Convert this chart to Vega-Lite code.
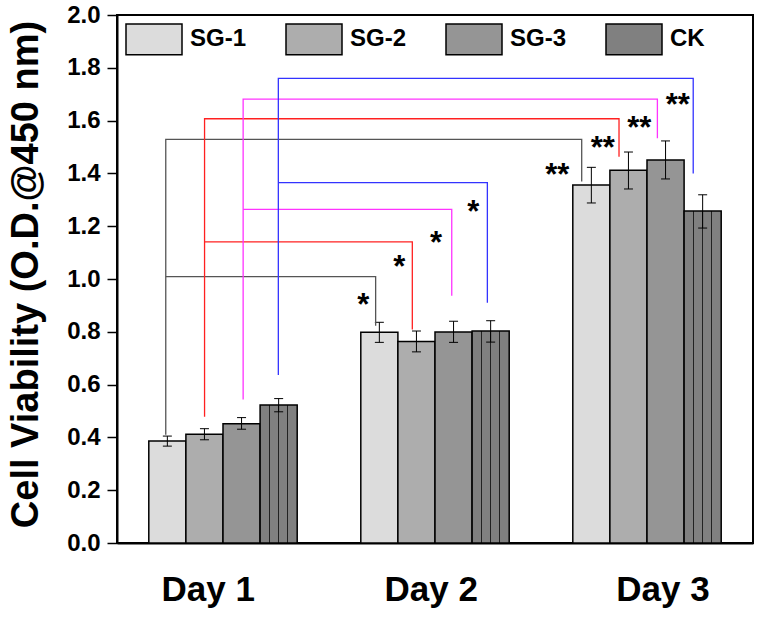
{
  "$schema": "https://vega.github.io/schema/vega-lite/v6.json",
  "width": 636,
  "height": 528,
  "autosize": {"type": "none"},
  "padding": {"left": 117, "top": 15, "right": 9, "bottom": 75},
  "background": "white",
  "config": {
    "view": {"stroke": "black", "strokeWidth": 2},
    "font": "Liberation Sans",
    "axis": {"grid": false, "domainColor": "black", "domainWidth": 2, "tickColor": "black", "labelColor": "black", "titleColor": "black"},
    "axisY": {"labelFontSize": 24, "labelFontWeight": "bold", "labelFont": "Liberation Sans"}
  },
  "datasets": {
    "bars": [
      {"Day": "Day 1", "Group": "SG-1", "mean": 0.386, "lo": 0.367, "hi": 0.405},
      {"Day": "Day 1", "Group": "SG-2", "mean": 0.412, "lo": 0.391, "hi": 0.433},
      {"Day": "Day 1", "Group": "SG-3", "mean": 0.452, "lo": 0.431, "hi": 0.475},
      {"Day": "Day 1", "Group": "CK", "mean": 0.523, "lo": 0.497, "hi": 0.547},
      {"Day": "Day 2", "Group": "SG-1", "mean": 0.798, "lo": 0.760, "hi": 0.836},
      {"Day": "Day 2", "Group": "SG-2", "mean": 0.763, "lo": 0.724, "hi": 0.803},
      {"Day": "Day 2", "Group": "SG-3", "mean": 0.799, "lo": 0.760, "hi": 0.840},
      {"Day": "Day 2", "Group": "CK", "mean": 0.803, "lo": 0.761, "hi": 0.842},
      {"Day": "Day 3", "Group": "SG-1", "mean": 1.356, "lo": 1.288, "hi": 1.423},
      {"Day": "Day 3", "Group": "SG-2", "mean": 1.412, "lo": 1.341, "hi": 1.481},
      {"Day": "Day 3", "Group": "SG-3", "mean": 1.451, "lo": 1.379, "hi": 1.523},
      {"Day": "Day 3", "Group": "CK", "mean": 1.258, "lo": 1.193, "hi": 1.319}
    ],
    "brackets": [
      {"cmp": "SG-1", "span": "D1-D3", "ord": 1, "pos": 0.23, "val": 0.41},
      {"cmp": "SG-1", "span": "D1-D3", "ord": 2, "pos": 0.23, "val": 1.529},
      {"cmp": "SG-1", "span": "D1-D3", "ord": 3, "pos": 2.192, "val": 1.529},
      {"cmp": "SG-1", "span": "D1-D3", "ord": 4, "pos": 2.192, "val": 1.369},
      {"cmp": "SG-1", "span": "D1-D2", "ord": 1, "pos": 0.23, "val": 1.009},
      {"cmp": "SG-1", "span": "D1-D2", "ord": 2, "pos": 1.22, "val": 1.009},
      {"cmp": "SG-1", "span": "D1-D2", "ord": 3, "pos": 1.22, "val": 0.823},
      {"cmp": "SG-2", "span": "D1-D3", "ord": 1, "pos": 0.413, "val": 0.478},
      {"cmp": "SG-2", "span": "D1-D3", "ord": 2, "pos": 0.413, "val": 1.607},
      {"cmp": "SG-2", "span": "D1-D3", "ord": 3, "pos": 2.368, "val": 1.607},
      {"cmp": "SG-2", "span": "D1-D3", "ord": 4, "pos": 2.368, "val": 1.463},
      {"cmp": "SG-2", "span": "D1-D2", "ord": 1, "pos": 0.413, "val": 1.141},
      {"cmp": "SG-2", "span": "D1-D2", "ord": 2, "pos": 1.393, "val": 1.141},
      {"cmp": "SG-2", "span": "D1-D2", "ord": 3, "pos": 1.393, "val": 0.809},
      {"cmp": "SG-3", "span": "D1-D3", "ord": 1, "pos": 0.595, "val": 0.544},
      {"cmp": "SG-3", "span": "D1-D3", "ord": 2, "pos": 0.595, "val": 1.681},
      {"cmp": "SG-3", "span": "D1-D3", "ord": 3, "pos": 2.549, "val": 1.681},
      {"cmp": "SG-3", "span": "D1-D3", "ord": 4, "pos": 2.549, "val": 1.533},
      {"cmp": "SG-3", "span": "D1-D2", "ord": 1, "pos": 0.595, "val": 1.264},
      {"cmp": "SG-3", "span": "D1-D2", "ord": 2, "pos": 1.579, "val": 1.264},
      {"cmp": "SG-3", "span": "D1-D2", "ord": 3, "pos": 1.579, "val": 0.937},
      {"cmp": "CK", "span": "D1-D3", "ord": 1, "pos": 0.761, "val": 0.636},
      {"cmp": "CK", "span": "D1-D3", "ord": 2, "pos": 0.761, "val": 1.76},
      {"cmp": "CK", "span": "D1-D3", "ord": 3, "pos": 2.718, "val": 1.76},
      {"cmp": "CK", "span": "D1-D3", "ord": 4, "pos": 2.718, "val": 1.4},
      {"cmp": "CK", "span": "D1-D2", "ord": 1, "pos": 0.761, "val": 1.365},
      {"cmp": "CK", "span": "D1-D2", "ord": 2, "pos": 1.747, "val": 1.365},
      {"cmp": "CK", "span": "D1-D2", "ord": 3, "pos": 1.747, "val": 0.91}
    ],
    "stars": [
      {"cmp": "SG-1", "label": "*", "pos": 1.162, "val": 0.927},
      {"cmp": "SG-2", "label": "*", "pos": 1.332, "val": 1.072},
      {"cmp": "SG-3", "label": "*", "pos": 1.505, "val": 1.163},
      {"cmp": "CK", "label": "*", "pos": 1.681, "val": 1.28},
      {"cmp": "SG-1", "label": "**", "pos": 2.077, "val": 1.419},
      {"cmp": "SG-2", "label": "**", "pos": 2.291, "val": 1.524},
      {"cmp": "SG-3", "label": "**", "pos": 2.464, "val": 1.6},
      {"cmp": "CK", "label": "**", "pos": 2.645, "val": 1.684}
    ]
  },
  "layer": [
    {
      "data": {"name": "bars"},
      "encoding": {
        "x": {"field": "Day", "type": "nominal", "scale": {"paddingInner": 0.3, "paddingOuter": 0.15}, "axis": null},
        "xOffset": {"field": "Group", "type": "nominal", "scale": {"domain": ["SG-1", "SG-2", "SG-3", "CK"], "paddingInner": 0, "paddingOuter": 0}}
      },
      "layer": [
        {
          "mark": {"type": "bar", "stroke": "black", "strokeWidth": 1.5},
          "encoding": {
            "y": {
              "field": "mean", "type": "quantitative",
              "scale": {"domain": [0, 2], "nice": false, "zero": true},
              "axis": {
                "title": "Cell Viability (O.D.@450 nm)",
                "titleFontSize": 38, "titleFontWeight": "bold", "titleFont": "Liberation Sans",
                "titleX": -80, "titleY": 259, "titleAngle": 270, "titleAlign": "center", "titleBaseline": "alphabetic",
                "values": [0, 0.1, 0.2, 0.3, 0.4, 0.5, 0.6, 0.7, 0.8, 0.9, 1.0, 1.1, 1.2, 1.3, 1.4, 1.5, 1.6, 1.7, 1.8, 1.9, 2.0],
                "labelExpr": "round(datum.value*10) % 2 === 0 ? format(datum.value, '.1f') : ''",
                "labelFontSize": 24, "labelFontWeight": "bold", "labelFont": "Liberation Sans",
                "labelPadding": 7, "labelOverlap": false, "labelFlush": false,
                "tickWidth": 1.5,
                "tickSize": 10,
                "tickDash": {"condition": {"test": "round(datum.value*10) % 2 === 1", "value": [4, 10]}, "value": [20, 0]},
                "encode": {"labels": {"update": {"fontSize": {"value": 24}, "fontWeight": {"value": "bold"}}}}
              }
            },
            "fill": {
              "field": "Group", "type": "nominal",
              "scale": {"domain": ["SG-1", "SG-2", "SG-3", "CK"], "range": ["#dcdcdc", "#adadad", "#959595", "#808080"]},
              "condition": {
                "test": "datum.Group === 'CK'",
                "value": {
                  "gradient": "linear", "x1": 0, "y1": 0, "x2": 1, "y2": 0,
                  "stops": [
                    {"offset": 0, "color": "#808080"},
                    {"offset": 0.235, "color": "#808080"},
                    {"offset": 0.235, "color": "#222222"},
                    {"offset": 0.265, "color": "#222222"},
                    {"offset": 0.265, "color": "#808080"},
                    {"offset": 0.485, "color": "#808080"},
                    {"offset": 0.485, "color": "#222222"},
                    {"offset": 0.515, "color": "#222222"},
                    {"offset": 0.515, "color": "#808080"},
                    {"offset": 0.735, "color": "#808080"},
                    {"offset": 0.735, "color": "#222222"},
                    {"offset": 0.765, "color": "#222222"},
                    {"offset": 0.765, "color": "#808080"},
                    {"offset": 1, "color": "#808080"}
                  ]
                }
              },
              "legend": {
                "title": null,
                "orient": "none",
                "legendX": 8,
                "legendY": -5,
                "direction": "horizontal",
                "columns": 4,
                "columnPadding": 36,
                "padding": 0,
                "symbolType": "M-1,-0.55H1V0.55H-1Z",
                "symbolSize": 3136,
                "symbolStrokeColor": "black",
                "symbolStrokeWidth": 1.5,
                "symbolOpacity": 1,
                "labelFontSize": 24,
                "labelFontWeight": "bold",
                "labelFont": "Liberation Sans",
                "labelColor": "black",
                "labelOffset": 7
              }
            }
          }
        },
        {
          "mark": {"type": "rule", "color": "black", "strokeWidth": 1},
          "encoding": {
            "y": {"field": "lo", "type": "quantitative", "scale": {"domain": [0, 2], "nice": false}},
            "y2": {"field": "hi"}
          }
        },
        {
          "mark": {"type": "tick", "color": "black", "thickness": 1, "size": 9, "opacity": 1},
          "encoding": {
            "y": {"field": "lo", "type": "quantitative", "scale": {"domain": [0, 2], "nice": false}}
          }
        },
        {
          "mark": {"type": "tick", "color": "black", "thickness": 1, "size": 9, "opacity": 1},
          "encoding": {
            "y": {"field": "hi", "type": "quantitative", "scale": {"domain": [0, 2], "nice": false}}
          }
        }
      ]
    },
    {
      "data": {"name": "brackets"},
      "mark": {"type": "line", "strokeWidth": 1.3},
      "encoding": {
        "x": {
          "field": "pos", "type": "quantitative",
          "scale": {"domain": [0, 3], "nice": false, "zero": false},
          "axis": {
            "values": [0.428, 1.48, 2.573],
            "labelExpr": "datum.value < 1 ? 'Day 1' : datum.value < 2 ? 'Day 2' : 'Day 3'",
            "title": null,
            "ticks": false,
            "tickSize": 0,
            "labelFontSize": 35,
            "labelFontWeight": "bold",
            "labelFont": "Liberation Sans",
            "labelBaseline": "alphabetic",
            "labelPadding": 57,
            "labelFlush": false,
            "labelOverlap": false
          }
        },
        "y": {"field": "val", "type": "quantitative", "scale": {"domain": [0, 2], "nice": false}},
        "stroke": {
          "condition": [
            {"test": "datum.cmp === 'SG-2'", "value": "#ff2020"},
            {"test": "datum.cmp === 'SG-3'", "value": "#ff33ff"},
            {"test": "datum.cmp === 'CK'", "value": "#3333ff"}
          ],
          "value": "#555555"
        },
        "detail": [{"field": "cmp"}, {"field": "span"}],
        "order": {"field": "ord", "type": "quantitative"}
      }
    },
    {
      "data": {"name": "stars"},
      "mark": {"type": "text", "fontSize": 31, "fontWeight": "bold", "font": "Liberation Sans", "color": "black", "align": "center", "baseline": "alphabetic", "dy": 17},
      "encoding": {
        "x": {"field": "pos", "type": "quantitative", "scale": {"domain": [0, 3], "nice": false, "zero": false}, "axis": null},
        "y": {"field": "val", "type": "quantitative", "scale": {"domain": [0, 2], "nice": false}},
        "text": {"field": "label"}
      }
    }
  ],
  "resolve": {"scale": {"x": "independent"}}
}
